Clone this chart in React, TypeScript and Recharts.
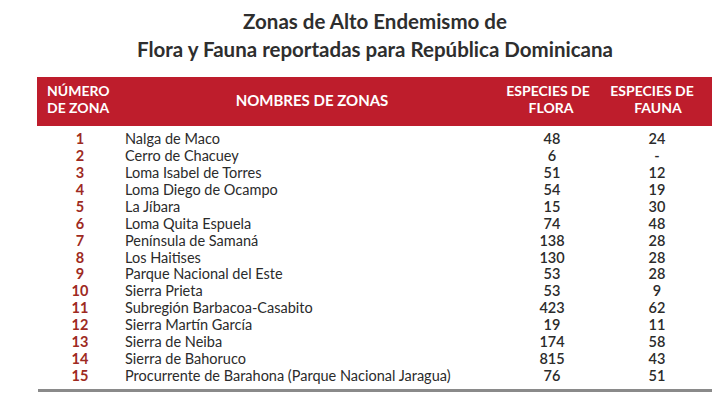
import { BarChart, Bar, XAxis, YAxis, Customized } from 'recharts';

const zonas = ['1', '2', '3', '4', '5', '6', '7', '8', '9', '10', '11', '12', '13', '14', '15'];
const nombres = [
  'Nalga de Maco',
  'Cerro de Chacuey',
  'Loma Isabel de Torres',
  'Loma Diego de Ocampo',
  'La Jíbara',
  'Loma Quita Espuela',
  'Península de Samaná',
  'Los Haitises',
  'Parque Nacional del Este',
  'Sierra Prieta',
  'Subregión Barbacoa-Casabito',
  'Sierra Martín García',
  'Sierra de Neiba',
  'Sierra de Bahoruco',
  'Procurrente de Barahona (Parque Nacional Jaragua)',
];
const flora = [48, 6, 51, 54, 15, 74, 138, 130, 53, 53, 423, 19, 174, 815, 76];
const fauna: (number | null)[] = [24, null, 12, 19, 30, 48, 28, 28, 28, 9, 62, 11, 58, 43, 51];

const data = zonas.map((z, i) => ({ zona: z, nombre: nombres[i], flora: flora[i], fauna: fauna[i] }));

const FONT = 'Lato, "Open Sans", sans-serif';
const RED = '#be1d2c';

// each y-axis tick draws one full table row
const RowTick = ({ y, payload }: any) => {
  const row = data[payload.index];
  if (!row) return null;
  return (
    <g fontFamily={FONT} fontSize={14.5}>
      <text x={80} y={y} dy={5} textAnchor="middle" fill="#9e2a22" fontWeight={700}>
        {row.zona}
      </text>
      <text x={125} y={y} dy={5} fill="#2b2b2b">
        {row.nombre}
      </text>
      <text x={552} y={y} dy={5} textAnchor="middle" fill="#2b2b2b" fontWeight={600}>
        {row.flora}
      </text>
      <text x={657} y={y} dy={5} textAnchor="middle" fill="#2b2b2b" fontWeight={600}>
        {row.fauna == null ? '-' : row.fauna}
      </text>
    </g>
  );
};

const Header = () => (
  <g fontFamily={FONT}>
    <text x={375} y={29} textAnchor="middle" fontSize={20.5} fontWeight={700} fill="#2e2e2e">
      Zonas de Alto Endemismo de
    </text>
    <text x={375} y={57} textAnchor="middle" fontSize={20.5} fontWeight={700} fill="#2e2e2e">
      Flora y Fauna reportadas para República Dominicana
    </text>
    <rect x={37} y={77} width={675} height={49} fill={RED} />
    <g fontSize={14} fontWeight={700} fill="#ffffff">
      <text x={47} y={96}>NÚMERO</text>
      <text x={47} y={113}>DE ZONA</text>
      <text x={548} y={96} textAnchor="middle">ESPECIES DE</text>
      <text x={551} y={113} textAnchor="middle">FLORA</text>
      <text x={652} y={96} textAnchor="middle">ESPECIES DE</text>
      <text x={658} y={113} textAnchor="middle">FAUNA</text>
    </g>
    <text x={312} y={106} textAnchor="middle" fontSize={15} fontWeight={700} fill="#ffffff">
      NOMBRES DE ZONAS
    </text>
    <rect x={38} y={389} width={674} height={3} fill="#8a8a8a" />
  </g>
);

export default function App() {
  return (
    <div style={{ position: 'absolute', left: 0, top: 0, width: 728, height: 403, background: '#fff' }}>
      <BarChart
        width={728}
        height={403}
        data={data}
        layout="vertical"
        margin={{ top: 131, right: 16, left: 0, bottom: 19 }}
      >
        <XAxis type="number" hide />
        <YAxis
          type="category"
          dataKey="zona"
          width={40}
          axisLine={false}
          tickLine={false}
          interval={0}
          tick={<RowTick />}
        />
        <Bar dataKey="flora" fill="transparent" isAnimationActive={false} />
        <Customized component={Header} />
      </BarChart>
    </div>
  );
}
